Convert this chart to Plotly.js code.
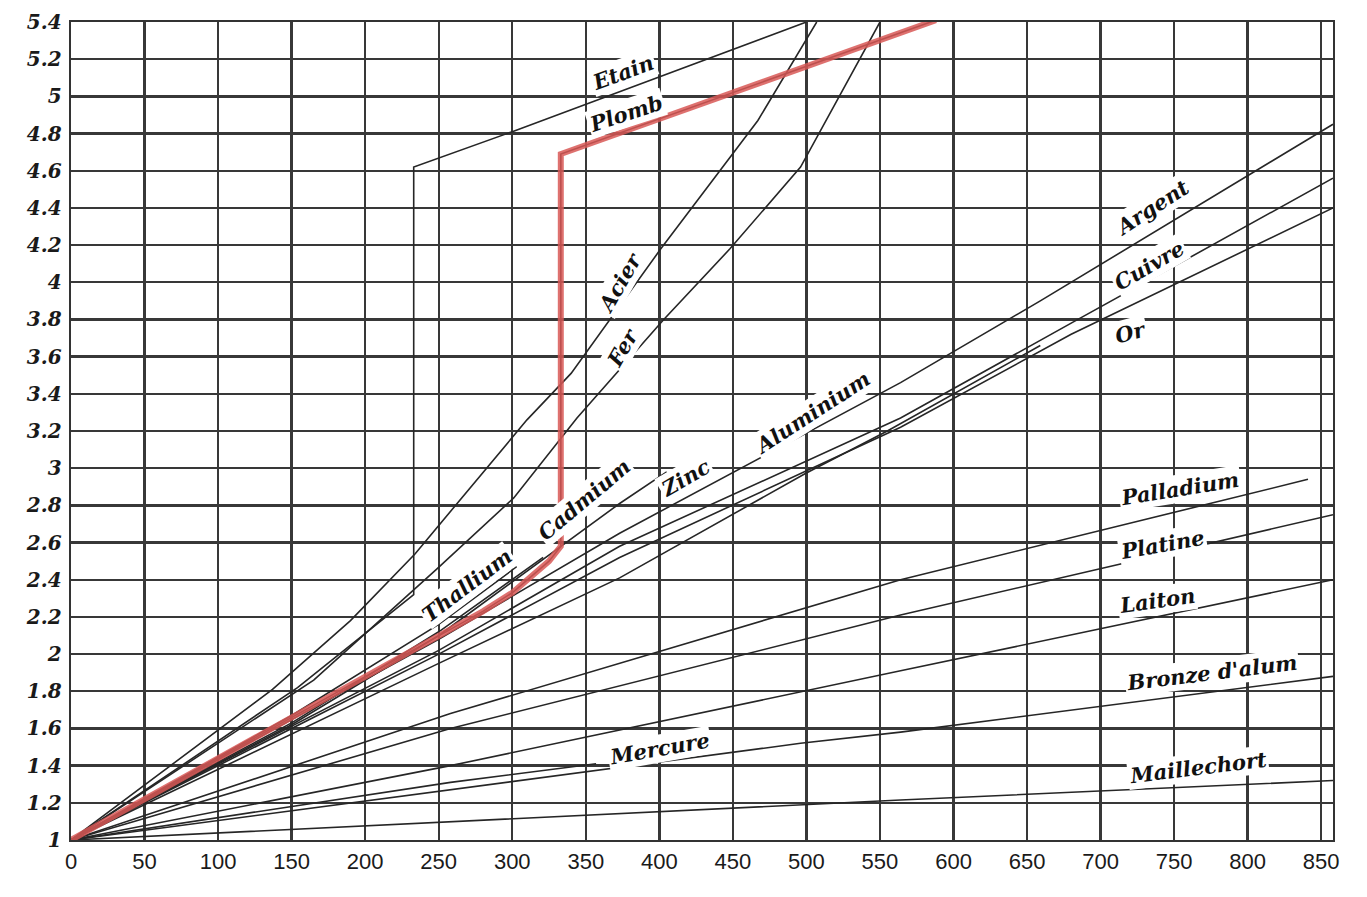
<!DOCTYPE html>
<html>
<head>
<meta charset="utf-8">
<script src="https://cdn.plot.ly/plotly-3.0.1.min.js"></script>
<style>html,body{margin:0;padding:0;background:#fff;}#chart{width:1367px;height:897px;}</style>
</head>
<body>
<div id="chart"></div>
<script>
// ---- data: temperature (°C) and resistance ratio R/R0 ----
const etainT = [0, 154, 233, 233, 300, 500];
const etainV = [1, 1.82, 2.32, 4.62, 4.81, 5.40];
const plombT = [0, 280, 300, 325, 333, 333, 588];
const plombV = [1, 2.23, 2.33, 2.50, 2.58, 4.69, 5.41];
const acierT = [0, 137, 190, 234, 310, 340, 401, 448, 467, 507];
const acierV = [1, 1.81, 2.18, 2.54, 3.26, 3.51, 4.18, 4.67, 4.87, 5.40];
const ferT = [0, 165, 249, 301, 344, 403, 448, 496, 550];
const ferV = [1, 1.86, 2.46, 2.84, 3.27, 3.80, 4.18, 4.62, 5.40];
const thalliumT = [0, 150, 250, 303];
const thalliumV = [1, 1.67, 2.16, 2.47];
const cadmiumT = [0, 150, 250, 321];
const cadmiumV = [1, 1.63, 2.12, 2.52];
const zincT = [0, 150, 250, 373, 405];
const zincV = [1, 1.62, 2.10, 2.81, 2.98];
const aluminiumT = [0, 250, 373, 499, 555, 659];
const aluminiumV = [1, 1.95, 2.41, 2.97, 3.20, 3.66];
const argentT = [0, 250, 373, 564, 659, 858];
const argentV = [1, 2.08, 2.65, 3.46, 3.90, 4.85];
const cuivreT = [0, 250, 373, 564, 680, 858];
const cuivreV = [1, 2.02, 2.58, 3.27, 3.78, 4.56];
const orT = [0, 250, 373, 564, 680, 858];
const orV = [1, 2.00, 2.52, 3.22, 3.72, 4.40];
const palladiumT = [0, 258, 564, 841];
const palladiumV = [1, 1.68, 2.40, 2.94];
const platineT = [0, 258, 564, 858];
const platineV = [1, 1.60, 2.21, 2.75];
const laitonT = [0, 258, 564, 858];
const laitonV = [1, 1.40, 1.91, 2.40];
const mercureT = [0, 258, 357];
const mercureV = [1, 1.31, 1.41];
const bronzeT = [0, 258, 496, 564, 858];
const bronzeV = [1, 1.27, 1.52, 1.58, 1.88];
const maillechortT = [0, 258, 439, 564, 858];
const maillechortV = [1, 1.10, 1.17, 1.215, 1.32];

const xTicks = [0,50,100,150,200,250,300,350,400,450,500,550,600,650,700,750,800,850];
const yTicks = [1,1.2,1.4,1.6,1.8,2,2.2,2.4,2.6,2.8,3,3.2,3.4,3.6,3.8,4,4.2,4.4,4.6,4.8,5,5.2,5.4];
const yTickText = ['1','1.2','1.4','1.6','1.8','2','2.2','2.4','2.6','2.8','3','3.2','3.4','3.6','3.8','4','4.2','4.4','4.6','4.8','5','5.2','5.4'];

// labels: [text, t, v, angle]
const labelText = ['Etain','Plomb','Acier','Fer','Thallium','Cadmium','Zinc','Aluminium','Argent','Cuivre','Or','Palladium','Platine','Laiton',"Bronze d'alum",'Mercure','Maillechort'];
const labelT = [375, 377, 373, 375, 269, 349, 418, 504, 735, 733, 720, 754, 742, 738, 776, 400, 766];
const labelV = [5.13, 4.91, 4.00, 3.65, 2.37, 2.83, 2.95, 3.30, 4.40, 4.09, 3.73, 2.89, 2.59, 2.29, 1.90, 1.49, 1.39];
const labelAngle = [-20, -18, -60, -60, -37, -40, -30, -33, -33, -30, -15, -9, -10, -8, -7, -10, -7];

const blackSeries = [
  [etainT, etainV], [plombT, plombV], [acierT, acierV], [ferT, ferV],
  [thalliumT, thalliumV], [cadmiumT, cadmiumV], [zincT, zincV], [aluminiumT, aluminiumV],
  [argentT, argentV], [cuivreT, cuivreV], [orT, orV], [palladiumT, palladiumV],
  [platineT, platineV], [laitonT, laitonV], [mercureT, mercureV], [bronzeT, bronzeV],
  [maillechortT, maillechortV]
];

const traces = blackSeries.map(s => ({
  x: s[0], y: s[1], type: 'scatter', mode: 'lines',
  line: {color: '#262626', width: 1.6}, hoverinfo: 'skip', showlegend: false
}));
traces.push({
  x: plombT, y: plombV, type: 'scatter', mode: 'lines',
  line: {color: 'rgba(216,88,86,0.85)', width: 6}, hoverinfo: 'skip', showlegend: false
});

const annotations = labelText.map((txt, i) => ({
  x: labelT[i], y: labelV[i], xref: 'x', yref: 'y', text: txt, showarrow: false,
  textangle: labelAngle[i], bgcolor: '#ffffff', borderpad: 1,
  font: {family: 'DejaVu Serif', size: 21, color: '#111', weight: 'bold', style: 'italic'}
}));

const layout = {
  width: 1367, height: 897,
  margin: {l: 71, r: 34, t: 22, b: 57},
  paper_bgcolor: '#ffffff', plot_bgcolor: '#ffffff',
  xaxis: {
    range: [0, 858], tickvals: xTicks, ticktext: xTicks.map(String),
    showgrid: true, gridcolor: '#383838', gridwidth: 2.4,
    showline: true, linecolor: '#333', linewidth: 2.4, mirror: true,
    zeroline: false, ticks: '',
    tickfont: {family: 'Liberation Sans', size: 22, color: '#1a1a1a'}
  },
  yaxis: {
    range: [1, 5.4], tickvals: yTicks, ticktext: yTickText,
    showgrid: true, gridcolor: '#383838', gridwidth: 2.4,
    showline: true, linecolor: '#333', linewidth: 2.4, mirror: true,
    zeroline: false, ticks: '', ticklabelstandoff: 3,
    tickfont: {family: 'DejaVu Serif', size: 20, color: '#1a1a1a', weight: 'bold', style: 'italic'}
  },
  annotations: annotations
};

Plotly.newPlot('chart', traces, layout, {displayModeBar: false, staticPlot: true});
</script>
</body>
</html>
